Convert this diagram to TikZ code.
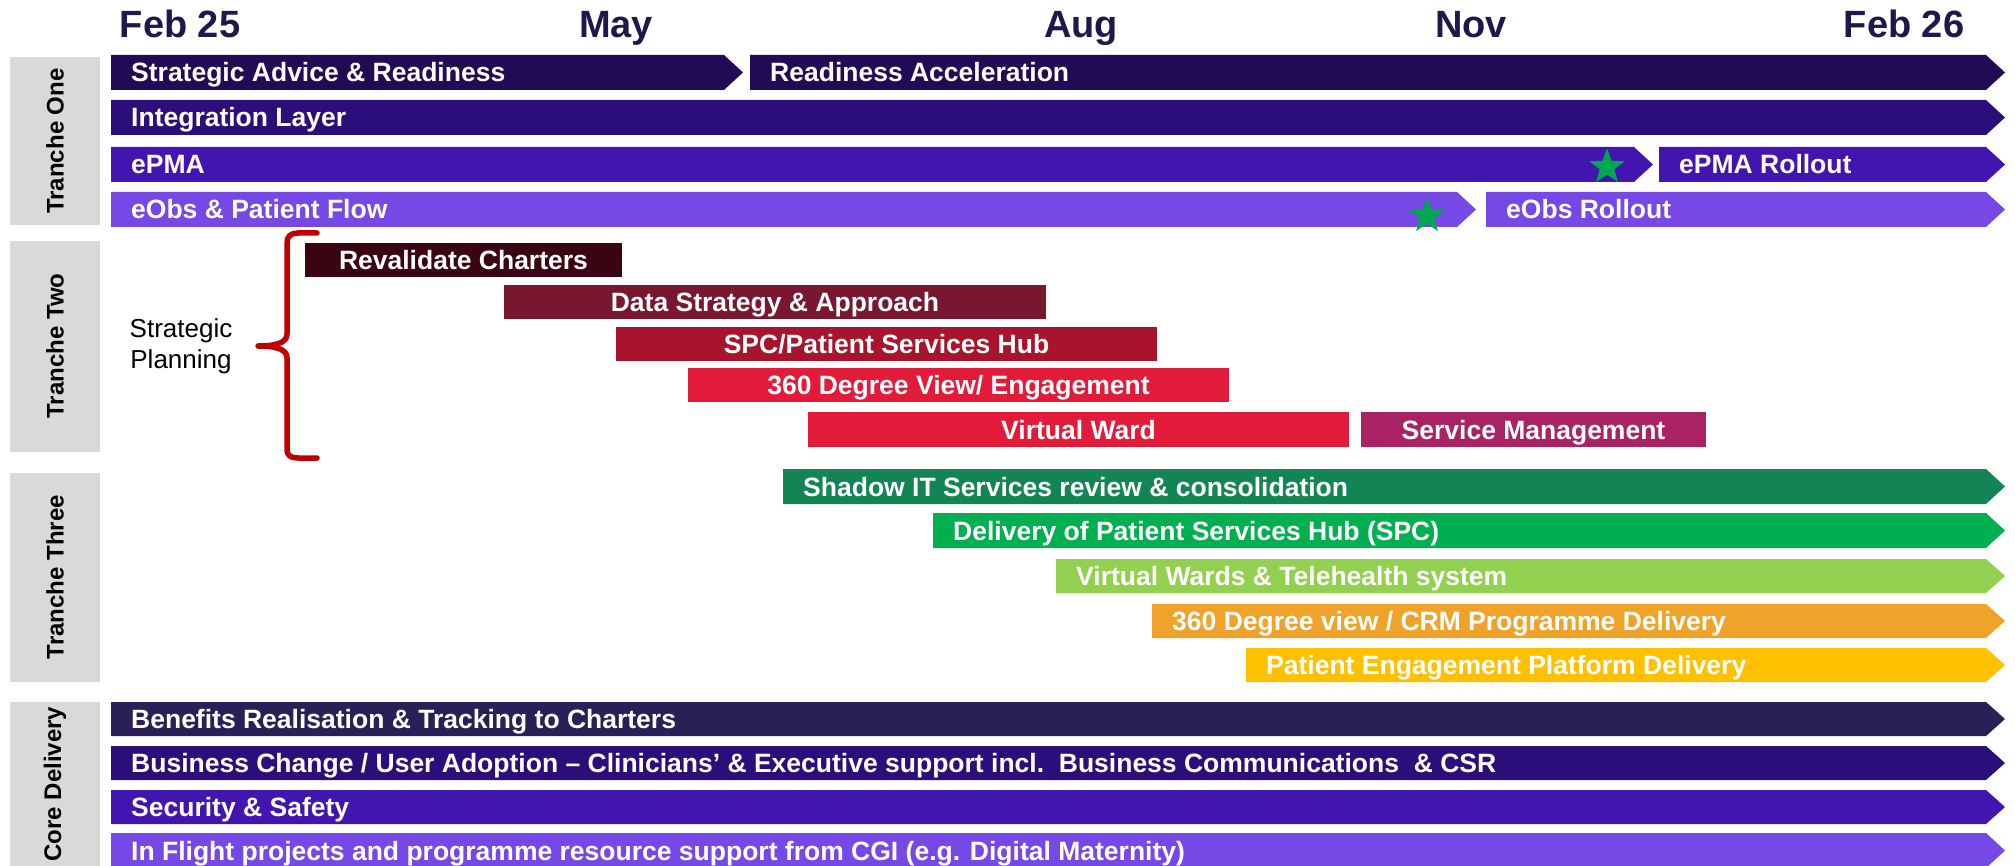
\documentclass[tikz,border=0pt]{standalone}
\usepackage{fontspec}
\setmainfont{Liberation Sans}
\usetikzlibrary{shapes.geometric}

% palette
\definecolor{monthc}{RGB}{30,24,76}
\definecolor{greybox}{RGB}{217,217,217}
\definecolor{purpA}{RGB}{34,11,84}
\definecolor{purpB}{RGB}{44,14,122}
\definecolor{purpC}{RGB}{67,21,176}
\definecolor{purpD}{RGB}{118,72,230}
\definecolor{coreA}{RGB}{42,31,86}
\definecolor{maroonA}{RGB}{58,4,18}
\definecolor{maroonB}{RGB}{120,23,47}
\definecolor{maroonC}{RGB}{168,20,44}
\definecolor{redA}{RGB}{227,27,58}
\definecolor{plum}{RGB}{169,34,99}
\definecolor{greenA}{RGB}{19,132,86}
\definecolor{greenB}{RGB}{0,175,80}
\definecolor{greenC}{RGB}{146,208,80}
\definecolor{orangeA}{RGB}{240,163,42}
\definecolor{amber}{RGB}{255,192,0}
\definecolor{starc}{RGB}{0,166,80}
\definecolor{bracered}{RGB}{192,0,0}

\tikzset{
  bartext/.style={text=white, font=\bfseries\fontsize{26.5}{30}\selectfont, inner sep=0pt},
  month/.style={text=monthc, font=\bfseries\fontsize{38}{44}\selectfont, inner sep=0pt, anchor=base},
  panel/.style={fill=greybox},
  panellabel/.style={rotate=90, font=\bfseries\fontsize{24}{28}\selectfont, inner sep=0pt},
  milestone/.style={star, star points=5, star point ratio=2.4, fill=starc, inner sep=0pt, minimum size=37pt},
  bracestyle/.style={draw=bracered, line width=5.5pt, line cap=round, line join=round},
  plain/.style={font=\fontsize{26}{31}\selectfont, align=center, inner sep=0pt}
}

% arrow-ended bar: name, colour, left, right end of body, top, bottom, label
\newcommand{\chevbar}[7]{%
  \fill[#2] (#3,#5) -- (#4,#5) -- ({#4+19},{(#5+#6)/2}) -- (#4,#6) -- (#3,#6) -- cycle;
  \node[bartext, anchor=base west] (#1) at ({#3+20},{(#5+#6)/2+9.5}) {#7};
}
% square-ended bar with centred label
\newcommand{\blockbar}[7]{%
  \fill[#2] (#3,#5) rectangle (#4,#6);
  \node[bartext, anchor=base] (#1) at ({(#3+#4)/2},{(#5+#6)/2+9.5}) {#7};
}

\begin{document}
\begin{tikzpicture}[x=1pt,y=-1pt]
\useasboundingbox (0,0) rectangle (2015,866);
\clip (0,0) rectangle (2015,866);

% timeline header
\node[month] (m1) at (180,38) {Feb 25};
\node[month] (m2) at (616,38) {May};
\node[month] (m3) at (1081,38) {Aug};
\node[month] (m4) at (1471,38) {Nov};
\node[month] (m5) at (1904,38) {Feb 26};

% side panels
\fill[panel] (10,57) rectangle (100,225);
\fill[panel] (10,241) rectangle (100,452);
\fill[panel] (10,473) rectangle (100,682);
\fill[panel] (10,702) rectangle (100,866);
\node[panellabel] (p1) at (55,141) {Tranche One};
\node[panellabel] (p2) at (55,346) {Tranche Two};
\node[panellabel] (p3) at (55,577) {Tranche Three};
\node[panellabel] (p4) at (55,784) {Core Delivery};

% Tranche One
\chevbar{sar}{purpA}{111}{724}{55}{90}{Strategic Advice \& Readiness}
\chevbar{ra}{purpA}{750}{1986}{55}{90}{Readiness Acceleration}
\chevbar{il}{purpB}{111}{1986}{100}{135}{Integration Layer}
\chevbar{epma}{purpC}{111}{1634}{147}{182}{ePMA}
\chevbar{epmar}{purpC}{1659}{1986}{147}{182}{ePMA Rollout}
\chevbar{eobs}{purpD}{111}{1457}{192}{227}{eObs \& Patient Flow}
\chevbar{eobsr}{purpD}{1486}{1986}{192}{227}{eObs Rollout}
\node[milestone] (star1) at (1607,167) {};
\node[milestone] (star2) at (1427,216) {};

% Tranche Two
\node[plain] (sp) at (181,346) {Strategic\\Planning};
\draw[bracestyle] (317,233) -- (298,233) .. controls (291,233) and (287,236) .. (287,243)
  -- (287,334) .. controls (287,342) and (278,346) .. (258,346)
  .. controls (278,346) and (287,350) .. (287,358)
  -- (287,449) .. controls (287,456) and (291,458) .. (298,458) -- (317,458);
\blockbar{rc}{maroonA}{305}{622}{243}{277}{Revalidate Charters}
\blockbar{dsa}{maroonB}{504}{1046}{285}{319}{Data Strategy \& Approach}
\blockbar{spc}{maroonC}{616}{1157}{327}{361}{SPC/Patient Services Hub}
\blockbar{dv}{redA}{688}{1229}{368}{402}{360 Degree View/ Engagement}
\blockbar{vw}{redA}{808}{1349}{412}{447}{Virtual Ward}
\blockbar{sm}{plum}{1361}{1706}{412}{447}{Service Management}

% Tranche Three
\chevbar{sit}{greenA}{783}{1986}{469}{504}{Shadow IT Services review \& consolidation}
\chevbar{dps}{greenB}{933}{1986}{513}{548}{Delivery of Patient Services Hub (SPC)}
\chevbar{vwt}{greenC}{1056}{1986}{559}{593}{Virtual Wards \& Telehealth system}
\chevbar{crm}{orangeA}{1152}{1986}{604}{638}{360 Degree view / CRM Programme Delivery}
\chevbar{pep}{amber}{1246}{1986}{648}{682}{Patient Engagement Platform Delivery}

% Core Delivery
\chevbar{br}{coreA}{111}{1986}{702}{736}{Benefits Realisation \& Tracking to Charters}
\chevbar{bc}{purpB}{111}{1986}{746}{780}{Business Change / User Adoption – Clinicians’ \& Executive support incl.~~Business Communications~~\& CSR}
\chevbar{ss}{purpC}{111}{1986}{790}{824}{Security \& Safety}
\chevbar{ifp}{purpD}{111}{1986}{833}{868}{In Flight projects and programme resource support from CGI (e.g. Digital Maternity)}
\end{tikzpicture}
\end{document}
